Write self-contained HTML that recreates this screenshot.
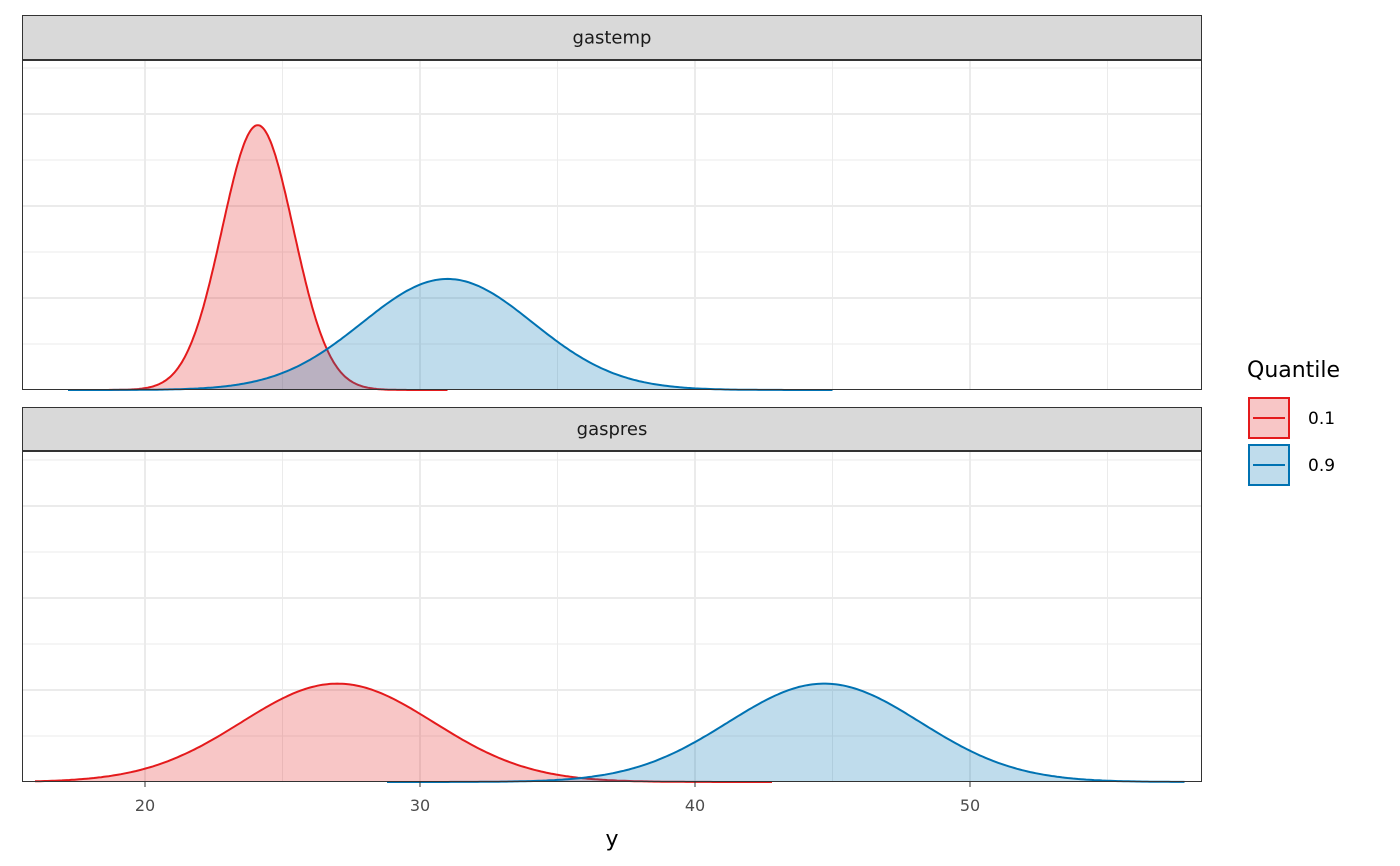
<!DOCTYPE html>
<html><head><meta charset="utf-8"><style>
html,body{margin:0;padding:0;background:#fff;}
svg{display:block;font-family:"DejaVu Sans","Liberation Sans",sans-serif;}
</style></head><body>
<svg id="chart" width="1400" height="866" viewBox="0 0 1400 866"></svg>
<script>
const panelNames = ["gastemp","gaspres"];
const quantiles = ["0.1","0.9"];
const means = [[24.1, 31.0],[27.0, 44.7]];
const sds = [[1.3, 3.1],[3.5, 3.5]];
const rangeLo = [[17.2, 17.2],[16.0, 28.8]];
const rangeHi = [[31.0, 45.0],[42.8, 57.8]];
const xTicks = [20,30,40,50];
const colors = ["#e41a1c","#0072b2"];

const NS="http://www.w3.org/2000/svg";
const svg=document.getElementById('chart');
function mk(t,a,p){const e=document.createElementNS(NS,t);for(const k in a)e.setAttribute(k,a[k]);(p||svg).appendChild(e);return e;}
const X0=22,X1=1202;
function xs(v){return -405+27.5*v;}
const pxPerUnit=863;
const panels=[{stripTop:15,top:60,bot:390},{stripTop:407,top:451,bot:782}];

panels.forEach((P,pi)=>{
  const g=mk('g',{});
  
  
  mk('rect',{x:X0,y:P.top,width:X1-X0,height:P.bot-P.top,fill:'#fff'},g);
  for(let k=1;k<=7;k++){const y=P.bot-46*k;if(y<=P.top)break;
    mk('line',{x1:X0,x2:X1,y1:y,y2:y,stroke:'#ebebeb','stroke-width':k%2==0?2:1},g);}
  [15,25,35,45,55].forEach(v=>{const x=xs(v);if(x<=X0||x>=X1)return;
    mk('line',{x1:x,x2:x,y1:P.top,y2:P.bot,stroke:'#ebebeb','stroke-width':1},g);});
  xTicks.forEach(v=>mk('line',{x1:xs(v),x2:xs(v),y1:P.top,y2:P.bot,stroke:'#ebebeb','stroke-width':2},g));
  for(let q=0;q<2;q++){
    const m=means[pi][q],s=sds[pi][q],lo=rangeLo[pi][q],hi=rangeHi[pi][q];
    let pts=[];
    for(let i=0;i<=300;i++){const v=lo+(hi-lo)*i/300;
      const d=Math.exp(-0.5*((v-m)/s)**2)/(s*Math.sqrt(2*Math.PI));
      pts.push([xs(v),P.bot-d*pxPerUnit]);}
    const line=pts.map((p,i)=>(i?'L':'M')+p[0].toFixed(1)+','+p[1].toFixed(1)).join('');
    const area=mk('path',{d:line+`L${xs(hi)},${P.bot}L${xs(lo)},${P.bot}Z`,fill:colors[q],'fill-opacity':0.25},g);
    
    
    const ln=mk('path',{d:line,fill:'none',stroke:colors[q],'stroke-width':2},g);
    
    
  }
  mk('rect',{x:X0+0.5,y:P.top+0.5,width:X1-X0-1,height:P.bot-P.top-1,fill:'none',stroke:'#333','stroke-width':1},g);
  const st=mk('rect',{x:X0+0.5,y:P.stripTop+0.5,width:X1-X0-1,height:P.top-P.stripTop-1,fill:'#d9d9d9',stroke:'#333','stroke-width':1});
  
  
  const t=mk('text',{x:(X0+X1)/2,y:(P.stripTop+P.top)/2+6,'text-anchor':'middle','font-size':18,fill:'#1a1a1a'});
  t.textContent=panelNames[pi];
  
  
});
xTicks.forEach(v=>{
  mk('line',{x1:xs(v),x2:xs(v),y1:782,y2:787,stroke:'#333','stroke-width':1});
  const t=mk('text',{x:xs(v),y:811,'text-anchor':'middle','font-size':16,fill:'#4d4d4d'});
  t.textContent=v;
  
  
});
const xt=mk('text',{x:612,y:846,'text-anchor':'middle','font-size':22,fill:'#000'});
xt.textContent='y';


const lt=mk('text',{x:1247,y:377,'font-size':22,fill:'#000'});
lt.textContent='Quantile';


quantiles.forEach((q,i)=>{
  const y=397+47*i;
  const g=mk('g',{});
  
  
  mk('rect',{x:1248,y:y,width:42,height:42,fill:'#fff'},g);
  mk('rect',{x:1249,y:y+1,width:40,height:40,fill:colors[i],'fill-opacity':0.25,stroke:colors[i],'stroke-width':2},g);
  mk('line',{x1:1253,x2:1285,y1:y+21,y2:y+21,stroke:colors[i],'stroke-width':2},g);
  const t=mk('text',{x:1308,y:y+27,'font-size':17,fill:'#000'},g);
  t.textContent=q;
});
</script>
</body></html>
